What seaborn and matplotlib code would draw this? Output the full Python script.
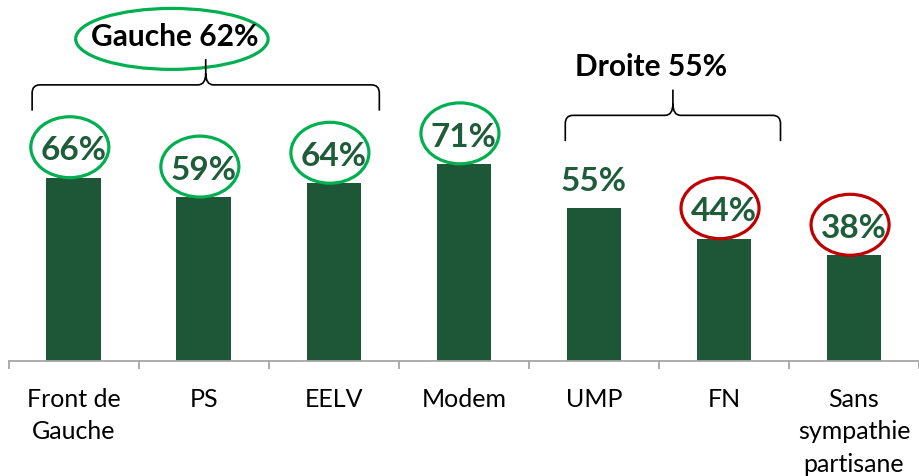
import matplotlib
matplotlib.use("Agg")
import matplotlib.pyplot as plt
from matplotlib.patches import Ellipse
from matplotlib.path import Path
from matplotlib.patches import PathPatch
import seaborn as sns
import pandas as pd

# ---- data ----
categories = ["Front de\nGauche", "PS", "EELV", "Modem", "UMP", "FN", "Sans\nsympathie\npartisane"]
values = [66, 59, 64, 71, 55, 44, 38]
circle_kind = ["good", "good", "good", "good", None, "bad", "bad"]
group_names = ["Gauche 62%", "Droite 55%"]
group_members = [[0, 1, 2], [4, 5]]
group_circled = [True, False]

# ---- style ----
BAR = "#1E5638"
TXT = "#1E5C3A"
GREEN = "#00B050"
RED = "#C00000"
AXIS = "#A6A6A6"
FONT = "Lato"

sns.set_theme(style="white")
plt.rcParams["font.family"] = [FONT, "DejaVu Sans"]

fig = plt.figure(figsize=(9.19, 4.77), dpi=100)
ax = fig.add_axes([0, (477 - 361.5) / 477, 1, 361.5 / 477])

df = pd.DataFrame({"cat": categories, "val": values})
sns.barplot(data=df, x="cat", y="val", color=BAR, width=0.42, ax=ax,
            saturation=1, edgecolor="none")

ax.set_xlim(-0.567, 6.475)
ax.set_ylim(0, 361.5 / 2.77)
ax.set_xlabel("")
ax.set_ylabel("")
ax.set_yticks([])
for s in ["top", "right", "left"]:
    ax.spines[s].set_visible(False)
ax.spines["bottom"].set_color(AXIS)
ax.spines["bottom"].set_linewidth(1.3)
ax.spines["bottom"].set_bounds(-0.5, len(categories) - 0.5)

ax.set_xticks(range(len(categories)))
ax.set_xticklabels(categories, fontsize=18, color="black", linespacing=1.5,
                   va="top")
ax.tick_params(axis="x", which="major", length=0, pad=19)
ax.set_xticks([i - 0.5 for i in range(len(categories) + 1)], minor=True)
ax.tick_params(axis="x", which="minor", length=6, width=1.3, color=AXIS,
               direction="out", bottom=True)

# value labels and circles
for i, (v, k) in enumerate(zip(values, circle_kind)):
    ax.text(i, v + 10.0, f"{v}%", ha="center", va="center", fontsize=24,
            fontweight="bold", color=TXT, zorder=5)
    if k is not None:
        ax.add_patch(Ellipse((i - 0.03, v + 11.0), 0.6, 22.0, fill=False,
                             edgecolor=GREEN if k == "good" else RED,
                             linewidth=2.3, clip_on=False, zorder=6))

# group braces
def brace(x0, x1, xm, y, depth, peak):
    r = 0.06
    ry = 3.0
    verts = [
        (x0, y - depth), (x0, y - ry), (x0, y), (x0 + r, y),
        (xm - r, y), (xm, y), (xm, y + peak * 0.45), (xm, y + peak),
        (xm, y + peak * 0.45), (xm, y), (xm + r, y),
        (x1 - r, y), (x1, y), (x1, y - ry), (x1, y - depth),
    ]
    codes = [Path.MOVETO, Path.LINETO, Path.CURVE3, Path.CURVE3,
             Path.LINETO, Path.CURVE3, Path.CURVE3, Path.LINETO,
             Path.MOVETO, Path.CURVE3, Path.CURVE3,
             Path.LINETO, Path.CURVE3, Path.CURVE3, Path.LINETO]
    ax.add_patch(PathPatch(Path(verts, codes), fill=False, edgecolor="black",
                           linewidth=1.2, clip_on=False, zorder=4))

brace_pads = [(-0.32, 0.35), (-0.22, 0.435)]
for name, members, circled, (pl, pr) in zip(group_names, group_members,
                                              group_circled, brace_pads):
    x0 = members[0] + pl
    x1 = members[-1] + pr
    xm = (x0 + x1) / 2
    ytop = max(values[m] for m in members) + 33.5
    brace(x0, x1, xm, ytop, 9.3, 9.3)
    ty = ytop + 9.3 + 8.5
    ax.text(xm - 0.24 if circled else xm - 0.17, ty, name, ha="center",
            va="center", fontsize=21.5, fontweight="bold", color="black")
    if circled:
        ax.add_patch(Ellipse((xm - 0.26, ty - 1.2), 1.48, 22.0, fill=False,
                             edgecolor=GREEN, linewidth=2.3, clip_on=False))

fig.savefig("out.png", dpi=100)
